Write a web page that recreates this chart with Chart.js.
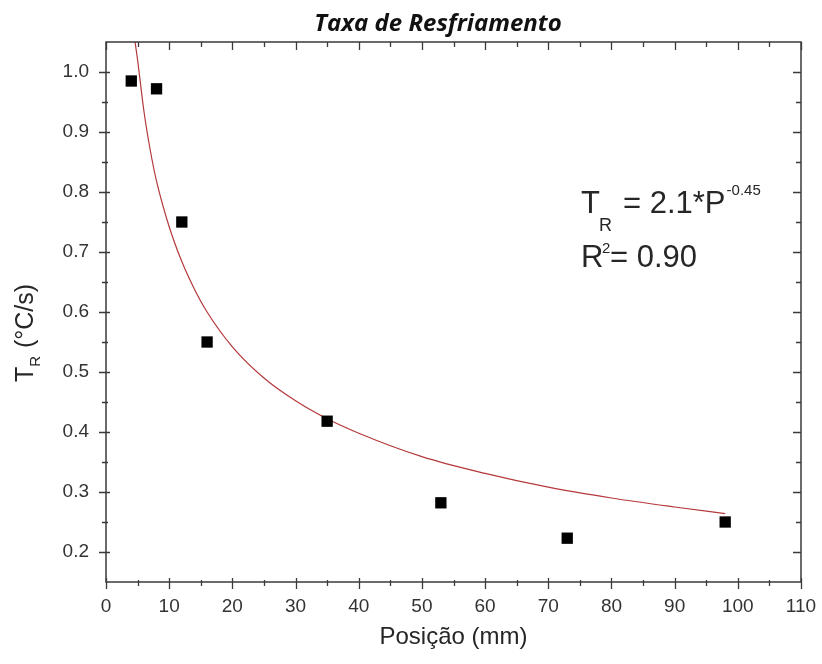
<!DOCTYPE html>
<html>
<head>
<meta charset="utf-8">
<script src="https://cdn.jsdelivr.net/npm/chart.js@4.4.1/dist/chart.umd.min.js"></script>
<style>
  html, body { margin: 0; padding: 0; background: #fff; }
  #wrap { width: 822px; height: 664px; position: relative; }
</style>
</head>
<body>
<div id="wrap"><canvas id="chart" width="822" height="664"></canvas></div>
<script>
// measured cooling rate at each position
const positions = [4, 8, 12, 16, 35, 53, 73, 98];
const rates = [0.985, 0.972, 0.75, 0.55, 0.418, 0.282, 0.223, 0.25];

// fitted power curve, read along its path
const fitX = [4.6, 5, 6, 7, 8, 10, 12, 14, 16, 20, 25, 30, 35, 40, 50, 60, 70, 80, 90, 98];
const fitY = [1.05, 1.02, 0.935, 0.87, 0.818, 0.742, 0.684, 0.638, 0.6, 0.542, 0.49, 0.452, 0.422, 0.398, 0.359, 0.331, 0.308, 0.29, 0.275, 0.264];

const xTicks = [0, 10, 20, 30, 40, 50, 60, 70, 80, 90, 100, 110];
const yTicks = [0.2, 0.3, 0.4, 0.5, 0.6, 0.7, 0.8, 0.9, 1.0];

const FONT = "'Liberation Sans', Arial, sans-serif";
const AXIS = "#3a3a3a";
const TEXT = "#262626";

const frameTicks = {
  id: "frameTicks",
  afterDraw(chart) {
    const { ctx, chartArea: a, scales } = chart;
    const x = scales.x, y = scales.y;
    ctx.save();
    ctx.strokeStyle = AXIS;
    ctx.lineWidth = 1.5;
    ctx.strokeRect(a.left, a.top, a.right - a.left, a.bottom - a.top);

    ctx.lineWidth = 1.3;
    ctx.beginPath();
    for (let v = 0; v <= 110; v += 5) {
      const px = Math.round(x.getPixelForValue(v)) + 0.5;
      const major = v % 10 === 0;
      // bottom ticks cross the axis, top ones point inward
      ctx.moveTo(px, a.bottom - (major ? 4 : 2));
      ctx.lineTo(px, a.bottom + (major ? 7 : 4));
      ctx.moveTo(px, a.top);
      ctx.lineTo(px, a.top + (major ? 8 : 5));
    }
    for (let i = 1; i < 18; i++) {
      const v = 0.15 + i * 0.05;
      const py = Math.round(y.getPixelForValue(v)) + 0.5;
      const major = i % 2 === 1;
      ctx.moveTo(a.left - (major ? 7 : 4), py);
      ctx.lineTo(a.left + (major ? 4 : 2), py);
      ctx.moveTo(a.right, py);
      ctx.lineTo(a.right - (major ? 8 : 5), py);
    }
    ctx.stroke();

    // title
    ctx.fillStyle = "#111";
    ctx.font = "italic bold 24px 'Open Sans', sans-serif";
    ctx.textAlign = "center";
    ctx.textBaseline = "alphabetic";
    ctx.fillText("Taxa de Resfriamento", 438, 31);

    // y axis title with subscript
    ctx.fillStyle = TEXT;
    ctx.translate(33, 333);
    ctx.rotate(-Math.PI / 2);
    ctx.textAlign = "left";
    const big = "25px " + FONT, small = "15px " + FONT;
    ctx.font = big;
    const wT = ctx.measureText("T").width;
    ctx.font = small;
    const wR = ctx.measureText("R").width;
    ctx.font = big;
    const rest = " (°C/s)";
    const total = wT + wR + 1 + ctx.measureText(rest).width;
    let cx = -total / 2;
    ctx.fillText("T", cx, 0);
    cx += wT;
    ctx.font = small;
    ctx.fillText("R", cx, 7);
    cx += wR + 1;
    ctx.font = big;
    ctx.fillText(rest, cx, 0);
    ctx.restore();

    // fit equation
    ctx.save();
    ctx.fillStyle = TEXT;
    ctx.textAlign = "left";
    ctx.textBaseline = "alphabetic";
    const eqBig = "31px " + FONT;
    ctx.font = eqBig;
    ctx.fillText("T", 581, 213);
    ctx.font = "18px " + FONT;
    ctx.fillText("R", 599, 231);
    ctx.font = eqBig;
    ctx.fillText("= 2.1*P", 623, 213);
    const ex = 623 + ctx.measureText("= 2.1*P").width + 1;
    ctx.font = "15px " + FONT;
    ctx.fillText("-0.45", ex, 195);

    ctx.font = eqBig;
    ctx.fillText("R", 581, 267);
    ctx.font = "15px " + FONT;
    ctx.fillText("2", 602, 253);
    ctx.font = eqBig;
    ctx.fillText("= 0.90", 610, 267);
    ctx.restore();
  },
};

new Chart(document.getElementById("chart"), {
  type: "scatter",
  data: {
    datasets: [
      {
        label: "Ajuste",
        data: fitX.map((x, i) => ({ x, y: fitY[i] })),
        showLine: true,
        borderColor: "#b5393b",
        borderWidth: 1.2,
        pointRadius: 0,
        cubicInterpolationMode: "monotone",
        order: 2,
      },
      {
        label: "TR",
        data: positions.map((x, i) => ({ x, y: rates[i] })),
        pointStyle: "rect",
        pointRadius: 8,
        backgroundColor: "#000",
        borderColor: "#000",
        borderWidth: 0,
        order: 1,
      },
    ],
  },
  options: {
    responsive: false,
    animation: false,
    layout: { padding: { top: 42, right: 21, bottom: 10, left: 0 } },
    plugins: { legend: { display: false }, tooltip: { enabled: false } },
    scales: {
      x: {
        type: "linear",
        min: 0,
        max: 110,
        afterBuildTicks: (s) => { s.ticks = xTicks.map((v) => ({ value: v })); },
        afterFit: (s) => {
          s.height = 72;
          s.paddingLeft = 0;
          s.paddingRight = 0;
        },
        grid: { display: false, drawTicks: false },
        border: { display: false },
        ticks: { color: "#333", font: { family: FONT, size: 19 }, padding: 13 },
        title: {
          display: true,
          text: "Posição (mm)",
          color: TEXT,
          font: { family: FONT, size: 24 },
          padding: { top: 0, bottom: 2 },
        },
      },
      y: {
        type: "linear",
        min: 0.15,
        max: 1.05,
        afterBuildTicks: (s) => { s.ticks = yTicks.map((v) => ({ value: v })); },
        afterFit: (s) => { s.width = 106; },
        grid: { display: false, drawTicks: false },
        border: { display: false },
        ticks: {
          color: "#333",
          font: { family: FONT, size: 19 },
          padding: 17,
          callback: (v) => Number(v).toFixed(1),
        },
      },
    },
  },
  plugins: [frameTicks],
});
</script>
</body>
</html>
